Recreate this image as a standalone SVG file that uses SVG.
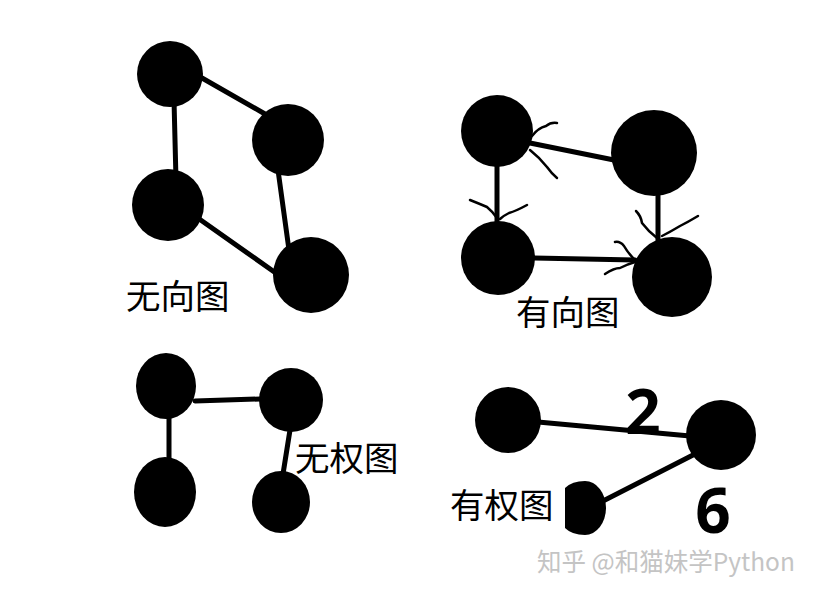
<svg xmlns="http://www.w3.org/2000/svg" width="817" height="598" viewBox="0 0 817 598">
<style>
.n{fill:#000}
.e{stroke:#000;stroke-width:5;fill:none;stroke-linecap:round}
.a{stroke:#000;stroke-width:2.5;fill:none;stroke-linecap:round;stroke-linejoin:round}
.lb{font-family:"Noto Sans CJK SC","Noto Sans",sans-serif;font-size:34.5px;fill:#000}
.w{font-family:"Open Sans","Liberation Sans",sans-serif;font-weight:bold;font-size:62px;fill:#000;text-anchor:middle}
.wm{font-family:"Noto Sans CJK SC","Noto Sans",sans-serif;font-size:24.5px;fill:#c4c4c4}
</style>
<rect width="817" height="598" fill="#fff"/>
<g id="connectors">
<!-- undirected -->
<line class="e" x1="174" y1="100" x2="176" y2="180"/>
<line class="e" x1="195" y1="74" x2="265" y2="114"/>
<line class="e" x1="195" y1="216" x2="280" y2="276"/>
<line class="e" x1="278" y1="170" x2="289" y2="250"/>
<!-- directed -->
<line class="e" x1="530" y1="143" x2="614" y2="160"/>
<line class="e" x1="497" y1="165" x2="497" y2="222"/>
<line class="e" x1="534" y1="258" x2="635" y2="260"/>
<line class="e" x1="658" y1="195" x2="658" y2="240"/>
<path class="a" d="M532 136 Q538 128 546 126 Q551 122 557 123"/>
<path class="a" d="M530 150 Q540 158 547 167 Q552 174 557 178"/>
<path class="a" d="M470 200 Q480 204 487 207 Q493 212 497 218"/>
<path class="a" d="M527 205 Q516 211 509 213 Q503 216 500 219"/>
<path class="a" d="M615 242 Q620 241 624 246 Q628 253 635 260"/>
<path class="a" d="M605 274 Q614 268 620 268 Q628 264 635 262"/>
<path class="a" d="M636 211 Q641 216 642 223 Q648 231 657 238"/>
<path class="a" d="M698 216 Q688 222 680 226 Q670 232 662 236"/>
<!-- unweighted -->
<line class="e" x1="195" y1="401" x2="260" y2="399"/>
<line class="e" x1="169" y1="415" x2="169" y2="460"/>
<line class="e" x1="290" y1="430" x2="283" y2="474"/>
<!-- weighted -->
<line class="e" x1="538" y1="422" x2="690" y2="436"/>
<line class="e" x1="695" y1="454" x2="603" y2="501"/>
</g>
<g id="undirected">
<circle id="u1" class="n" cx="170" cy="74" r="33"/>
<circle id="u2" class="n" cx="288" cy="140" r="36"/>
<circle id="u3" class="n" cx="168" cy="205" r="36"/>
<circle id="u4" class="n" cx="311" cy="275" r="38"/>
<text class="lb" x="126" y="309">无向图</text>
</g>
<g id="directed">
<circle id="d1" class="n" cx="497" cy="131" r="36"/>
<circle id="d2" class="n" cx="654" cy="153" r="43"/>
<circle id="d3" class="n" cx="498" cy="258" r="37"/>
<circle id="d4" class="n" cx="672" cy="277" r="40"/>
<text class="lb" x="516" y="325">有向图</text>
</g>
<g id="unweighted">
<ellipse id="w1" class="n" cx="166" cy="386" rx="30" ry="33"/>
<ellipse id="w2" class="n" cx="291" cy="400" rx="32" ry="32"/>
<ellipse id="w3" class="n" cx="165" cy="492" rx="31" ry="35"/>
<ellipse id="w4" class="n" cx="281" cy="502" rx="29" ry="31"/>
<text class="lb" x="295" y="471">无权图</text>
</g>
<g id="weighted">
<circle id="p1" class="n" cx="508" cy="420" r="33"/>
<circle id="p2" class="n" cx="721" cy="435" r="35"/>
<path id="p3" class="n" d="M565 488 Q572 481 585 481 A21 27 0 0 1 585 535 Q572 535 565 528 Z"/>
<text class="lb" x="450" y="518">有权图</text>
<text class="w" x="643" y="434">2</text>
<text class="w" x="713" y="533">6</text>
</g>
<g id="watermark">
<text class="wm" x="537" y="571">知乎 @和猫妹学Python</text>
</g>
</svg>
